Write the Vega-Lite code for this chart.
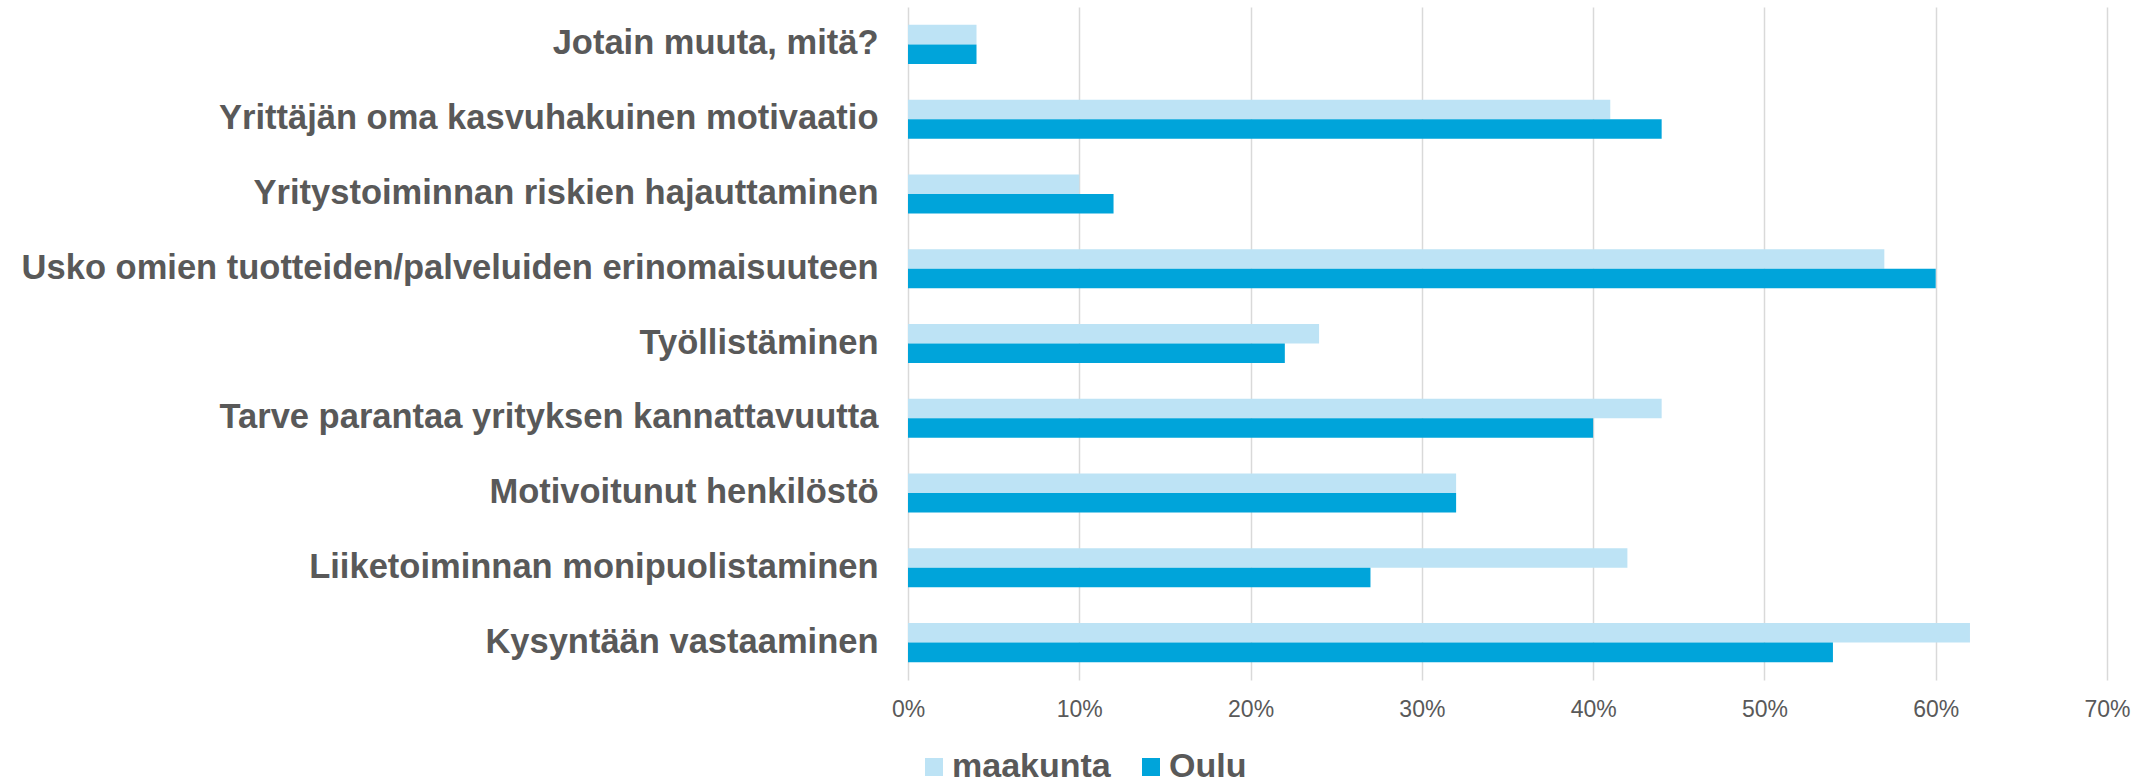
{
  "$schema": "https://vega.github.io/schema/vega-lite/v6.json",
  "width": 1199,
  "height": 673,
  "autosize": {"type": "none"},
  "padding": {"left": 908, "top": 7, "right": 45, "bottom": 100},
  "background": "white",
  "config": {"view": {"stroke": null}, "font": "Liberation Sans"},
  "data": {
    "values": [
      {"kategoria": "Jotain muuta, mitä?", "sarja": "maakunta", "osuus": 0.04},
      {"kategoria": "Jotain muuta, mitä?", "sarja": "Oulu", "osuus": 0.04},
      {"kategoria": "Yrittäjän oma kasvuhakuinen motivaatio", "sarja": "maakunta", "osuus": 0.41},
      {"kategoria": "Yrittäjän oma kasvuhakuinen motivaatio", "sarja": "Oulu", "osuus": 0.44},
      {"kategoria": "Yritystoiminnan riskien hajauttaminen", "sarja": "maakunta", "osuus": 0.10},
      {"kategoria": "Yritystoiminnan riskien hajauttaminen", "sarja": "Oulu", "osuus": 0.12},
      {"kategoria": "Usko omien tuotteiden/palveluiden erinomaisuuteen", "sarja": "maakunta", "osuus": 0.57},
      {"kategoria": "Usko omien tuotteiden/palveluiden erinomaisuuteen", "sarja": "Oulu", "osuus": 0.60},
      {"kategoria": "Työllistäminen", "sarja": "maakunta", "osuus": 0.24},
      {"kategoria": "Työllistäminen", "sarja": "Oulu", "osuus": 0.22},
      {"kategoria": "Tarve parantaa yrityksen kannattavuutta", "sarja": "maakunta", "osuus": 0.44},
      {"kategoria": "Tarve parantaa yrityksen kannattavuutta", "sarja": "Oulu", "osuus": 0.40},
      {"kategoria": "Motivoitunut henkilöstö", "sarja": "maakunta", "osuus": 0.32},
      {"kategoria": "Motivoitunut henkilöstö", "sarja": "Oulu", "osuus": 0.32},
      {"kategoria": "Liiketoiminnan monipuolistaminen", "sarja": "maakunta", "osuus": 0.42},
      {"kategoria": "Liiketoiminnan monipuolistaminen", "sarja": "Oulu", "osuus": 0.27},
      {"kategoria": "Kysyntään vastaaminen", "sarja": "maakunta", "osuus": 0.62},
      {"kategoria": "Kysyntään vastaaminen", "sarja": "Oulu", "osuus": 0.54}
    ]
  },
  "mark": {"type": "bar"},
  "encoding": {
    "y": {
      "field": "kategoria",
      "type": "nominal",
      "sort": [
        "Jotain muuta, mitä?",
        "Yrittäjän oma kasvuhakuinen motivaatio",
        "Yritystoiminnan riskien hajauttaminen",
        "Usko omien tuotteiden/palveluiden erinomaisuuteen",
        "Työllistäminen",
        "Tarve parantaa yrityksen kannattavuutta",
        "Motivoitunut henkilöstö",
        "Liiketoiminnan monipuolistaminen",
        "Kysyntään vastaaminen"
      ],
      "scale": {"paddingInner": 0.478, "paddingOuter": 0.239},
      "axis": {
        "title": null,
        "labelFont": "Liberation Sans",
        "labelFontWeight": "bold",
        "labelFontSize": 34.5,
        "labelColor": "#595959",
        "labelPadding": 30,
        "labelLimit": 1200,
        "ticks": false,
        "domain": false
      }
    },
    "yOffset": {
      "field": "sarja",
      "type": "nominal",
      "sort": ["maakunta", "Oulu"],
      "scale": {"paddingInner": 0, "paddingOuter": 0}
    },
    "x": {
      "field": "osuus",
      "type": "quantitative",
      "scale": {"domain": [0, 0.7], "nice": false},
      "axis": {
        "values": [0, 0.1, 0.2, 0.3, 0.4, 0.5, 0.6, 0.7],
        "format": ".0%",
        "title": null,
        "grid": true,
        "gridColor": "#D9D9D9",
        "gridWidth": 1.5,
        "domain": false,
        "ticks": false,
        "labelFlush": false,
        "labelFont": "Liberation Sans",
        "labelFontSize": 23,
        "labelColor": "#595959",
        "labelPadding": 18
      }
    },
    "color": {
      "field": "sarja",
      "type": "nominal",
      "scale": {"domain": ["maakunta", "Oulu"], "range": ["#BDE3F5", "#00A4DA"]},
      "legend": {
        "title": null,
        "orient": "none",
        "legendX": 9,
        "legendY": 743,
        "direction": "horizontal",
        "symbolType": "square",
        "symbolSize": 324,
        "symbolStrokeWidth": 0,
        "labelFont": "Liberation Sans",
        "labelFontSize": 34,
        "labelFontWeight": "bold",
        "labelColor": "#595959",
        "labelOffset": 1,
        "columnPadding": 23,
        "padding": 0
      }
    }
  }
}
